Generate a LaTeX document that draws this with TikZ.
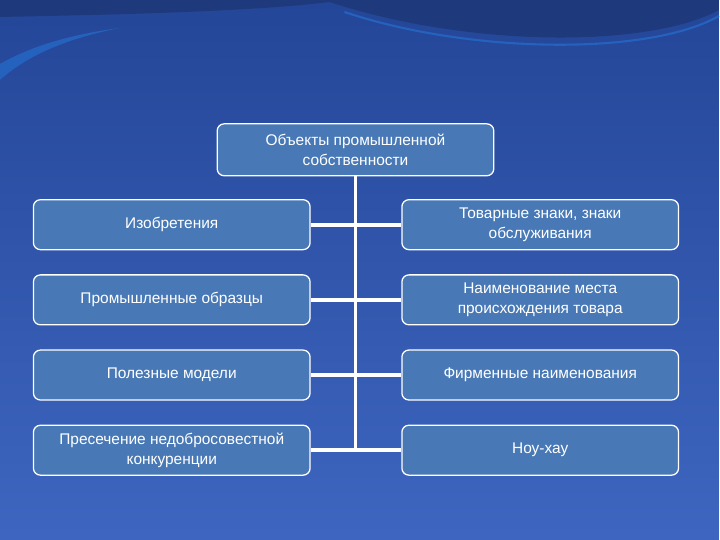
\documentclass[tikz,border=0pt]{standalone}
\usepackage{fontspec}
\setmainfont{Liberation Sans}
\usetikzlibrary{positioning}
\definecolor{bgtop}{RGB}{36,70,152}
\definecolor{bgbot}{RGB}{62,102,192}
\definecolor{wavedark}{RGB}{30,58,125}
\definecolor{wavelight}{RGB}{36,98,190}
\definecolor{boxblue}{RGB}{72,121,182}

\begin{document}
\begin{tikzpicture}[x=0.025cm,y=-0.025cm,
    obj/.style={draw=white,line width=0.9pt,rounded corners=5pt,fill=boxblue,
      text=white,align=center,font=\fontsize{11}{14}\selectfont,
      minimum width=6.925cm,minimum height=1.25cm,inner sep=2pt},
    link/.style={draw=white,line width=2.8pt}]
 % background
 \fill[top color=bgtop,bottom color=bgbot] (0,0) rectangle (720,540);
 \fill[wavedark] (0,0) -- (720,0) -- (720,10) .. controls (650,48) and (470,48) .. (330,2)
   .. controls (250,12) and (100,15) .. (0,17) -- cycle;
 \draw[wavelight,line width=1.5pt] (720,16) .. controls (650,56) and (470,54) .. (345,12);
 \fill[wavelight] (0,80) .. controls (25,58) and (60,40) .. (120,28)
   .. controls (60,36) and (25,50) .. (0,64) -- cycle;
 \useasboundingbox (0,0) rectangle (720,540);
 % nodes
 \node[obj,minimum height=1.3cm] (top) at (356,150) {Объекты промышленной\\собственности};
 \node[obj] (l1) at (172,225) {Изобретения};
 \node[obj,below=0.6cm of l1] (l2) {Промышленные образцы};
 \node[obj,below=0.6cm of l2] (l3) {Полезные модели};
 \node[obj,below=0.6cm of l3] (l4) {Пресечение недобросовестной\\конкуренции};
 \node[obj] (r1) at (541,225) {Товарные знаки, знаки\\обслуживания};
 \node[obj,below=0.6cm of r1] (r2) {Наименование места\\происхождения товара};
 \node[obj,below=0.6cm of r2] (r3) {Фирменные наименования};
 \node[obj,below=0.6cm of r3] (r4) {Ноу-хау};
 % links
 \draw[link] (top.south) -- (top.south |- l4.east);
 \foreach \X in {1,...,4} {\draw[link] (l\X.east) -- (r\X.west);}
\end{tikzpicture}
\end{document}
